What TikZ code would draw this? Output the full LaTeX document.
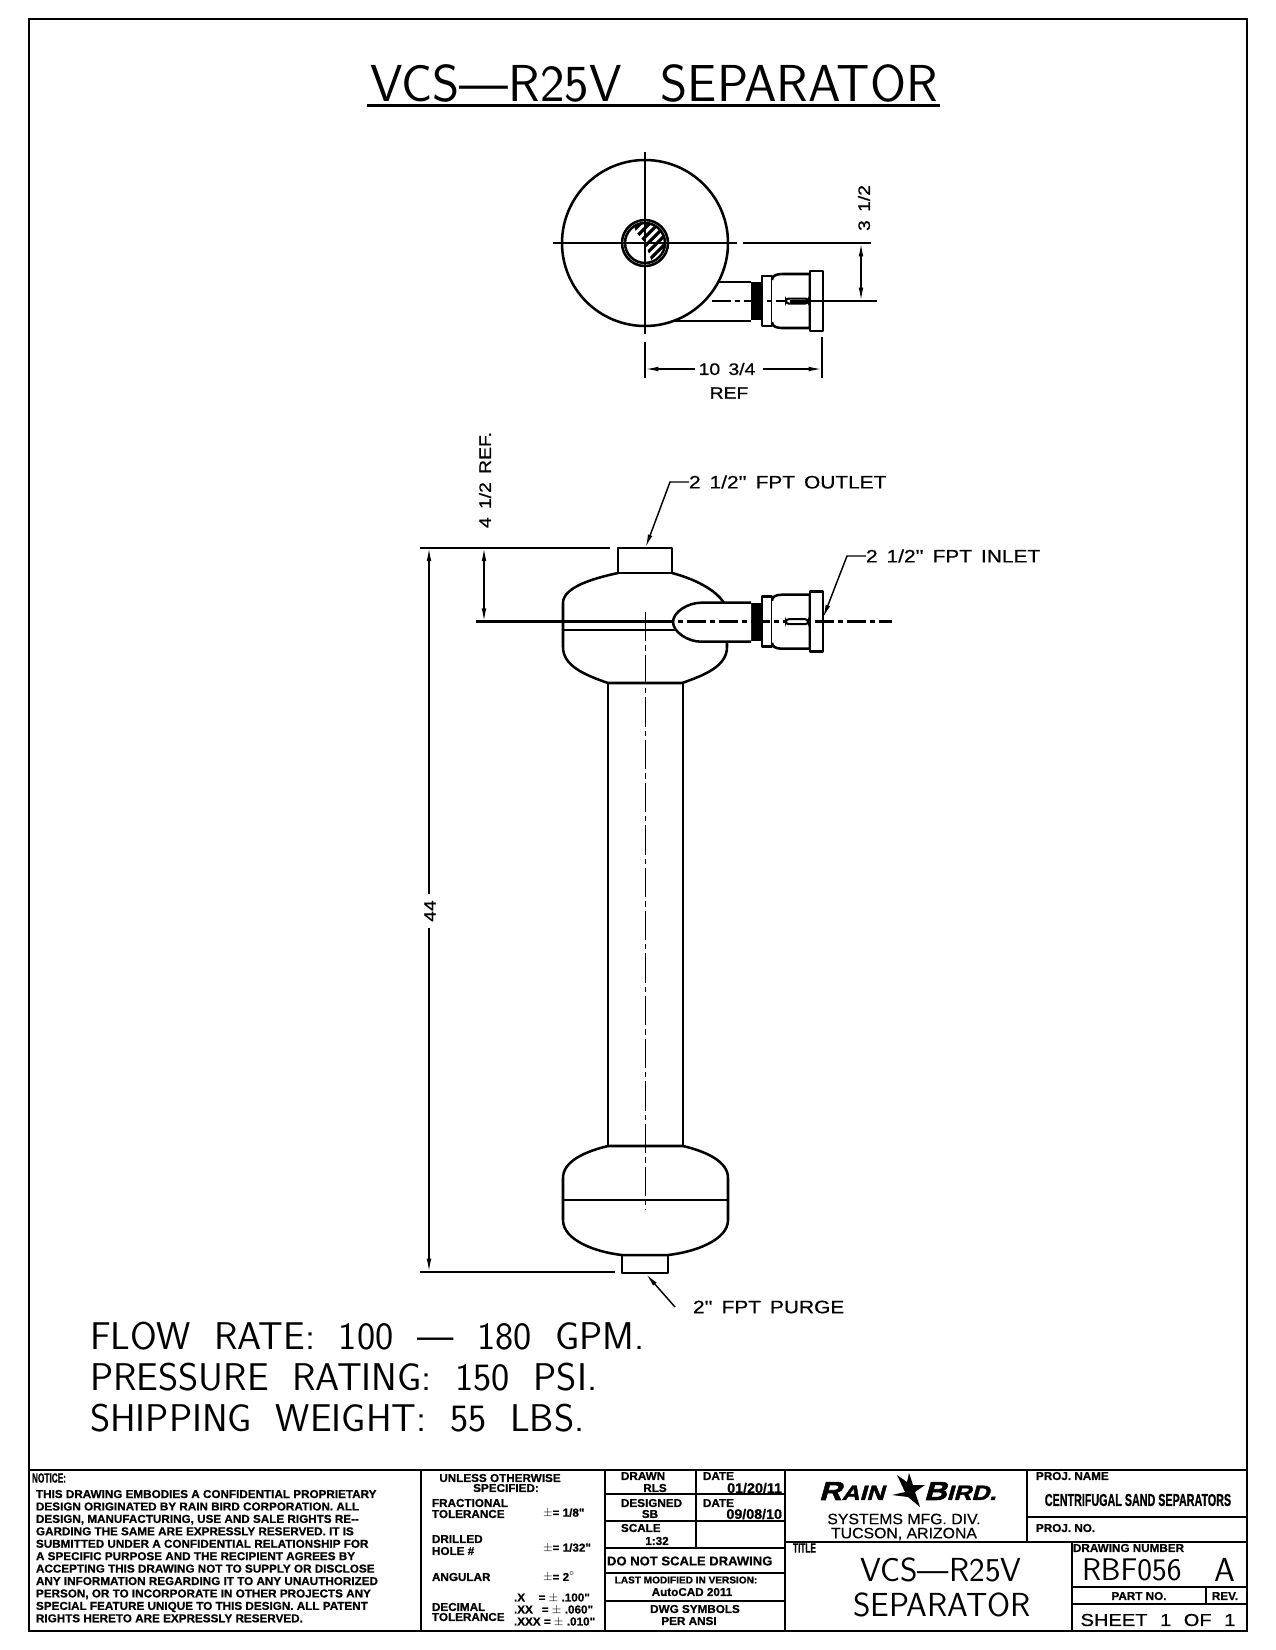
\documentclass[tikz,border=0pt]{standalone}
\usepackage{fontspec}
\usetikzlibrary{arrows.meta}
\newfontfamily\cadbold[FakeStretch=1.02,FakeBold=0.8]{Liberation Sans Bold}
\newfontfamily\cadtight[FakeStretch=0.62,FakeBold=0.8]{Liberation Sans Bold}
\newfontfamily\cadwide[FakeStretch=1.16,FakeBold=0.6]{Liberation Sans}
\newfontfamily\cadmid[FakeStretch=1.05,FakeBold=0.3]{Liberation Sans}
\newfontfamily\cadlogo[FakeStretch=1.2,FakeBold=2.2,FakeSlant=0.28]{Liberation Sans Bold}
\newcommand{\fs}[1]{\fontsize{#1}{#1}\selectfont}
\tikzset{
  part/.style={line width=1.9pt,line join=round},
  thinpart/.style={line width=1.1pt},
  centerline/.style={line width=1.9pt,dash pattern=on 14pt off 3pt on 4pt off 3pt},
  axisline/.style={line width=1.3pt,dash pattern=on 22pt off 3pt on 4pt off 3pt},
  extline/.style={line width=1.6pt},
  dimline/.style={line width=1.1pt,{Latex[length=10pt,width=3.5pt]}-{Latex[length=10pt,width=3.5pt]}},
  leader/.style={line width=1.1pt,-{Latex[length=10pt,width=3.5pt]}},
  frameline/.style={line width=1.8pt},
  plainnode/.style={inner sep=0pt,outer sep=0pt},
  callout/.style={plainnode,anchor=west,font=\cadwide\fs{13.5}},
  dimtext/.style={plainnode,font=\cadwide\fs{12.5}},
  bigtext/.style={plainnode,anchor=west,font=\sffamily\fs{29}},
  smalltext/.style={plainnode,anchor=west,font=\cadbold\fs{8.6}},
  smallmid/.style={plainnode,font=\cadbold\fs{8.6}},
  blocktext/.style={plainnode,font=\sffamily\fs{25}},
}
\begin{document}
\begin{tikzpicture}[x=0.75pt,y=0.75pt,yscale=-1,xscale=1]
\useasboundingbox (0,0) rectangle (1275,1650);
\fill[white] (0,0) rectangle (1275,1650);
% sheet frame
\draw[frameline] (29,19) rectangle (1247,1631);
\node (title) [plainnode,font=\sffamily\fs{39}] at (654,83) {VCS---R25V\hspace{0.75em}SEPARATOR};
\draw[line width=1.7pt] (367,105.5) -- (940,105.5);
% top view
\draw[part] (645,243) circle (83);
\draw[part] (645,243) circle (23);
\draw[part] (645,243) circle (20);
\begin{scope}
\clip (645,243) circle (20);
\clip (636,232) -- (645,243) -- (652,262) -- (670,262) -- (670,220) -- (632,220) -- cycle;
\foreach \hx in {-24,-15,...,30}
  \draw[line width=2.4pt] (645+\hx-20,263) -- (645+\hx+20,223);
\end{scope}
\draw[extline] (645,152) -- (645,334);
\draw[extline] (553,243) -- (737,243);
\draw[extline] (743,243) -- (871,243);
\draw[extline] (645,342) -- (645,378);
\draw[extline] (822,337) -- (822,378);
% fitting, same on both views
\foreach \yc in {301,621.7}{
  \fill (751,\yc-19) rectangle (762,\yc+19);
  \draw[part,fill=white] (762,\yc-25) rectangle (772,\yc+25);
  \draw[part,fill=white] (772,\yc-21) .. controls (772,\yc-25) and (776,\yc-27) .. (782,\yc-27) -- (810,\yc-27)
    -- (810,\yc+27) -- (782,\yc+27) .. controls (776,\yc+27) and (772,\yc+25) .. (772,\yc+21);
  \draw[part,fill=white] (810,\yc-30) rectangle (823,\yc+30);
}
\draw[part] (718,282) -- (751,282);
\draw[part] (673,321) -- (751,321);
\draw[centerline] (712,301) -- (786,301);
\draw[extline] (805,301) -- (877,301);
\draw[line width=1.5pt,rounded corners=2pt] (786,298.5) rectangle (808,303.5);
\fill (790,299.5) rectangle (806,302.5);
\draw[thinpart,-{Latex[length=10pt,width=3.5pt]}] (695,369) -- (645,369);
\draw[thinpart,-{Latex[length=10pt,width=3.5pt]}] (763,369) -- (822,369);
\node (topwidth) [dimtext] at (727,369) {10\hspace{0.5em}3/4};
\node (topref) [dimtext] at (729,393) {REF};
\draw[dimline] (861,243) -- (861,301);
\node (topoffset) [dimtext,rotate=90] at (864,208) {3\hspace{0.5em}1/2};
% side view, top tank
\draw[part] (618,573) .. controls (590,579) and (563,588) .. (563,603) -- (563,647)
  .. controls (563,666) and (585,675) .. (608,683) -- (682,683)
  .. controls (705,675) and (727,666) .. (727,647) -- (727,642);
\draw[part] (672,573) .. controls (695,579) and (716,590) .. (724,603);
\draw[part] (618,573) rectangle (672,548);
\draw[part,fill=white] (751,602.7) -- (701,602.7) .. controls (688,602.7) and (673,612) .. (673,622)
  .. controls (673,632) and (688,641.7) .. (701,641.7) -- (751,641.7);
\draw[part] (563,630) -- (677,630);
\draw[part] (608,683) -- (608,1146);
\draw[part] (683,683) -- (683,1146);
\draw[line width=1.9pt] (476,621.7) -- (655,621.7);
\draw[centerline] (655,621.7) -- (892,621.7);
\draw[line width=1.5pt,rounded corners=2pt,fill=white] (786,619.2) rectangle (808,624.2);
\draw[axisline] (645.5,612) -- (645.5,1210);
% side view, bottom tank
\draw[part] (608,1146) -- (683,1146)
  .. controls (708,1152) and (728,1162) .. (728,1178) -- (728,1220)
  .. controls (728,1240) and (695,1252) .. (668,1255) -- (622,1255)
  .. controls (595,1252) and (563,1240) .. (563,1220) -- (563,1178)
  .. controls (563,1162) and (583,1152) .. (608,1146);
\draw[thinpart] (563,1200) -- (728,1200);
\draw[part] (622,1255) rectangle (668,1273);
% dimensions
\draw[extline] (420,547.7) -- (610,547.7);
\draw[extline] (420,1272) -- (615,1272);
\draw[dimline] (484,547.7) -- (484,621.7);
\node (topheight) [dimtext,rotate=90] at (485,480) {4\hspace{0.5em}1/2\hspace{0.5em}REF.};
\draw[line width=1.1pt,{Latex[length=10pt,width=3.5pt]}-] (429,547.7) -- (429,894);
\draw[line width=1.1pt,-{Latex[length=10pt,width=3.5pt]}] (429,928) -- (429,1272);
\node (height) [dimtext,rotate=90] at (430,911) {44};
% callouts
\node (outlet) [callout] at (689,482) {2\hspace{0.5em}1/2''\hspace{0.5em}FPT\hspace{0.5em}OUTLET};
\node (inlet) [callout] at (866,556) {2\hspace{0.5em}1/2''\hspace{0.5em}FPT\hspace{0.5em}INLET};
\node (purge) [callout] at (693,1307) {2''\hspace{0.5em}FPT\hspace{0.5em}PURGE};
\coordinate (outlettip) at (645.5,547.7);
\coordinate (inlettip) at (823,618);
\coordinate (purgetip) at (646,1274);
\coordinate (purgeend) at (675,1307);
\draw[leader] (outlet.west) -- (670,482) -- (outlettip);
\draw[leader] (inlet.west) -- (847,556) -- (inlettip);
\draw[leader] (purgeend) -- (purgetip);
% ratings
\node (flowrate) [bigtext] at (90,1336) {FLOW\hspace{0.3em} RATE:\hspace{0.3em} 100\hspace{0.3em} ---\hspace{0.3em} 180\hspace{0.3em} GPM.};
\node (pressure) [bigtext] at (90,1377) {PRESSURE\hspace{0.3em} RATING:\hspace{0.3em} 150\hspace{0.3em} PSI.};
\node (weight) [bigtext] at (90,1418) {SHIPPING\hspace{0.3em} WEIGHT:\hspace{0.3em} 55\hspace{0.3em} LBS.};
% title block lines
\draw[frameline] (29,1470) -- (1247,1470);
\draw[frameline] (421,1470) -- (421,1631);
\draw[frameline] (605,1470) -- (605,1631);
\draw[frameline] (785,1470) -- (785,1631);
\draw[frameline] (1027,1470) -- (1027,1542);
\draw[frameline] (1027,1517) -- (1247,1517);
\draw[frameline] (785,1542) -- (1247,1542);
\draw[frameline] (1072,1542) -- (1072,1631);
\draw[frameline] (1072,1587) -- (1247,1587);
\draw[frameline] (1072,1604) -- (1247,1604);
\draw[frameline] (1206,1587) -- (1206,1604);
\draw[frameline] (605,1494) -- (785,1494);
\draw[frameline] (605,1521) -- (785,1521);
\draw[frameline] (605,1548) -- (785,1548);
\draw[frameline] (605,1573) -- (785,1573);
\draw[frameline] (605,1601) -- (785,1601);
\draw[thinpart] (696,1470) -- (696,1548);
% notice
\node (noticehead) [plainnode,anchor=west,font=\cadtight\fs{10}] at (32,1478) {NOTICE:};
\node (notice) [plainnode,anchor=north west,align=left,font=\cadbold\fontsize{8.6}{9.32}\selectfont] at (36,1490) {THIS DRAWING EMBODIES A CONFIDENTIAL PROPRIETARY\\
DESIGN ORIGINATED BY RAIN BIRD CORPORATION. ALL\\
DESIGN, MANUFACTURING, USE AND SALE RIGHTS RE--\\
GARDING THE SAME ARE EXPRESSLY RESERVED. IT IS\\
SUBMITTED UNDER A CONFIDENTIAL RELATIONSHIP FOR\\
A SPECIFIC PURPOSE AND THE RECIPIENT AGREES BY\\
ACCEPTING THIS DRAWING NOT TO SUPPLY OR DISCLOSE\\
ANY INFORMATION REGARDING IT TO ANY UNAUTHORIZED\\
PERSON, OR TO INCORPORATE IN OTHER PROJECTS ANY\\
SPECIAL FEATURE UNIQUE TO THIS DESIGN. ALL PATENT\\
RIGHTS HERETO ARE EXPRESSLY RESERVED.};
% tolerances
\node (unless) [smallmid] at (500,1478) {UNLESS OTHERWISE};
\node (specified) [smallmid] at (506,1488) {SPECIFIED:};
\node (fractional) [smalltext] at (432,1503) {FRACTIONAL};
\node (fractol) [smalltext] at (432,1514) {TOLERANCE};
\node (fracval) [smalltext] at (543,1513) {$\pm$= 1/8"};
\node (drilled) [smalltext] at (432,1539) {DRILLED};
\node (hole) [smalltext] at (432,1551) {HOLE \#};
\node (holeval) [smalltext] at (543,1548) {$\pm$= 1/32"};
\node (angular) [smalltext] at (432,1577) {ANGULAR};
\node (angval) [smalltext] at (543,1577) {$\pm$= 2$^\circ$};
\node (decimal) [smalltext] at (432,1607) {DECIMAL};
\node (dectol) [smalltext] at (432,1617) {TOLERANCE};
\node (decone) [smalltext] at (514,1598) {.X \hspace{0.9em}= $\pm$ .100"};
\node (dectwo) [smalltext] at (514,1610) {.XX \hspace{0.5em}= $\pm$ .060"};
\node (decthree) [smalltext] at (514,1622) {.XXX = $\pm$ .010"};
% drawn column
\node (drawn) [smalltext] at (621,1476) {DRAWN};
\node (drawnby) [smallmid] at (655,1488) {RLS};
\node (drawndate) [smalltext] at (703,1476) {DATE};
\node (drawnval) [plainnode,anchor=east,font=\cadbold\fs{10.5}] at (782,1488) {01/20/11};
\node (designed) [smalltext] at (621,1503) {DESIGNED};
\node (designby) [smallmid] at (650,1514) {SB};
\node (designdate) [smalltext] at (703,1503) {DATE};
\node (designval) [plainnode,anchor=east,font=\cadbold\fs{10.5}] at (782,1514) {09/08/10};
\node (scale) [smalltext] at (621,1528) {SCALE};
\node (scaleval) [smallmid] at (657,1541) {1:32};
\node (noscale) [plainnode,anchor=west,font=\cadbold\fs{9.6}] at (607,1561) {DO NOT SCALE DRAWING};
\node (modified) [plainnode,font=\cadbold\fs{7.4}] at (686,1580) {LAST MODIFIED IN VERSION:};
\node (autocad) [smallmid] at (692,1592) {AutoCAD 2011};
\node (symbols) [smallmid] at (695,1609) {DWG SYMBOLS};
\node (ansi) [smallmid] at (689,1621) {PER ANSI};
% logo
\node (rain) [plainnode,anchor=west,font=\cadlogo\fs{19.5}] at (819,1491) {R\fs{15.5}AIN};
\node (bird) [plainnode,anchor=west,font=\cadlogo\fs{19.5}] at (924,1491) {B\fs{15.5}IRD.};
\fill (892,1495) -- (905,1492) -- (897,1475) -- (907,1482) -- (909,1473) -- (913,1485) -- (925,1485)
  -- (915,1492) -- (920,1507) -- (908,1497) -- cycle;
\node (systems) [plainnode,font=\cadmid\fs{11.3}] at (904,1519) {SYSTEMS MFG. DIV.};
\node (tucson) [plainnode,font=\cadmid\fs{11.3}] at (904,1534) {TUCSON, ARIZONA};
% project and title
\node (projname) [smalltext] at (1036,1476) {PROJ. NAME};
\node (projval) [plainnode,font=\cadtight\fs{13}] at (1138,1500) {CENTRIFUGAL SAND SEPARATORS};
\node (projno) [smalltext] at (1036,1528) {PROJ. NO.};
\node (titlelabel) [plainnode,anchor=west,font=\cadtight\fs{10}] at (793,1548) {TITLE};
\node (titleone) [blocktext] at (941,1570) {VCS---R25V};
\node (titletwo) [blocktext] at (942,1605) {SEPARATOR};
\node (drawingnum) [smalltext] at (1073,1548) {DRAWING NUMBER};
\node (number) [blocktext,anchor=west,font=\sffamily\fs{23.5}] at (1082,1570) {RBF056};
\node (revision) [blocktext] at (1225,1570) {A};
\node (partno) [smallmid] at (1139,1596) {PART NO.};
\node (rev) [smallmid] at (1225,1596) {REV.};
\node (sheet) [plainnode,font=\cadwide\fs{13}] at (1158,1620) {SHEET\hspace{0.4em} 1\hspace{0.4em} OF\hspace{0.4em} 1};
\end{tikzpicture}
\end{document}
